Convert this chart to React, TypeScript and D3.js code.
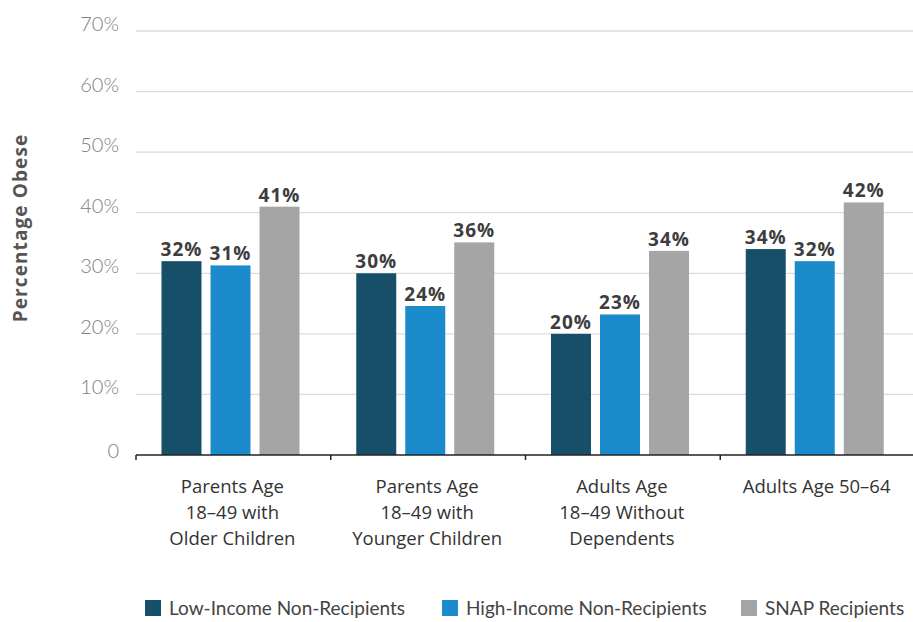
import React from "react";
import * as d3 from "d3";

const categories = [
  ["Parents Age", "18–49 with", "Older Children"],
  ["Parents Age", "18–49 with", "Younger Children"],
  ["Adults Age", "18–49 Without", "Dependents"],
  ["Adults Age 50–64"],
];
const seriesNames = ["Low-Income Non-Recipients", "High-Income Non-Recipients", "SNAP Recipients"];
const seriesColors = ["#174f69", "#1b8bcb", "#a5a5a5"];
const lowIncome = [32, 30, 20, 34];
const highIncome = [31.3, 24.6, 23.2, 32];
const snap = [41, 35.1, 33.7, 41.7];
const valueLabels = [
  ["32%", "30%", "20%", "34%"],
  ["31%", "24%", "23%", "32%"],
  ["41%", "36%", "34%", "42%"],
];
const yTicks = [0, 10, 20, 30, 40, 50, 60, 70];

const W = 913;
const H = 622;
const M = { left: 136, right: -2, top: 31, bottom: 167 };

export default function App() {
  const series = [lowIncome, highIncome, snap];
  const x0 = d3
    .scaleBand<number>()
    .domain(categories.map((_, i) => i))
    .range([M.left, W - M.right])
    .paddingInner(0)
    .paddingOuter(0);
  const x1 = d3
    .scaleBand<number>()
    .domain([0, 1, 2])
    .range([25.5, 163.5])
    .paddingInner(0.184)
    .paddingOuter(0);
  const y = d3.scaleLinear().domain([0, 70]).range([H - M.bottom, M.top]);

  const tickFont = "Lato, 'Open Sans', sans-serif";

  return (
    <svg width={W} height={H} style={{ position: "absolute", left: 0, top: 0 }}>
      <rect width={W} height={H} fill="#fff" />
      {yTicks.map((t) => (
        <g key={t}>
          {t > 0 && (
            <line x1={M.left} x2={W} y1={y(t)} y2={y(t)} stroke="#dcdcdc" strokeWidth={1.3} />
          )}
          <text
            x={119}
            y={y(t) + (t === 0 ? 3 : 0)}
            textAnchor="end"
            fontFamily={tickFont}
            fontWeight={300}
            fontSize={20}
            fill="#7f7f7f"
          >
            {t === 0 ? "0" : `${t}%`}
          </text>
        </g>
      ))}
      <text
        transform={`translate(27,${228}) rotate(-90)`}
        textAnchor="middle"
        fontFamily="'Open Sans', sans-serif"
        fontWeight={700}
        fontSize={19}
        letterSpacing={1.1}
        fill="#555"
      >
        Percentage Obese
      </text>
      {categories.map((cat, ci) => (
        <g key={ci} transform={`translate(${x0(ci)},0)`}>
          {series.map((s, si) => (
            <g key={si}>
              <rect
                x={x1(si)}
                y={y(s[ci])}
                width={x1.bandwidth()}
                height={y(0) - y(s[ci])}
                fill={seriesColors[si]}
              />
              <text
                x={(x1(si) as number) + x1.bandwidth() / 2}
                y={y(s[ci]) - 5}
                textAnchor="middle"
                fontFamily="'Open Sans', sans-serif"
                fontWeight={700}
                fontSize={19}
                letterSpacing={1}
                fill="#3d3d3d"
              >
                {valueLabels[si][ci]}
              </text>
            </g>
          ))}
          {cat.map((line, li) => (
            <text
              key={li}
              x={x0.bandwidth() / 2 - 1}
              y={493 + li * 26}
              textAnchor="middle"
              fontFamily="'Open Sans', sans-serif"
              fontSize={18.5}
              fill="#333"
            >
              {line}
            </text>
          ))}
        </g>
      ))}
      <line x1={M.left} x2={W} y1={y(0)} y2={y(0)} stroke="#222" strokeWidth={1.5} />
      {categories.map((_, ci) => (
        <line
          key={ci}
          x1={x0(ci)}
          x2={x0(ci)}
          y1={y(0)}
          y2={y(0) + 5}
          stroke="#222"
          strokeWidth={1.5}
        />
      ))}
      {seriesNames.map((name, si) => {
        const lx = [145, 442, 741][si];
        return (
          <g key={name}>
            <rect x={lx} y={600} width={16} height={16} fill={seriesColors[si]} />
            <text x={lx + 24} y={615} fontFamily={tickFont} fontSize={19} fill="#444">
              {name}
            </text>
          </g>
        );
      })}
    </svg>
  );
}
